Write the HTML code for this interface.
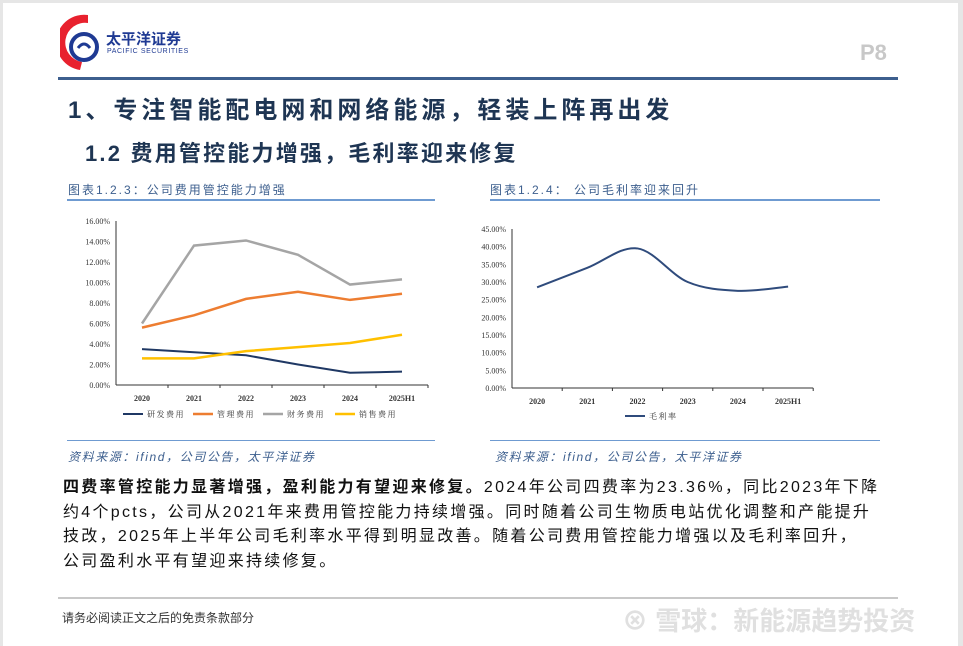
<!DOCTYPE html>
<html><head><meta charset="utf-8"><style>
body{margin:0;width:963px;height:646px;background:#e6e6e6;position:relative;overflow:hidden;font-family:"Liberation Sans","Noto Sans CJK SC",sans-serif}
.page{position:absolute;left:3px;top:3px;width:955px;height:643px;background:#fff}
.abs{position:absolute;white-space:nowrap}
</style></head><body>
<div class="page"></div>
<svg class="abs" style="left:60px;top:14px" width="40" height="58">
<path d="M28 1 A27 27 0 0 0 20 56 L22 48 A19 19 0 0 1 28 9 Z" fill="#e8212e"/>
<circle cx="24" cy="33" r="13" fill="none" stroke="#1f3a93" stroke-width="4"/>
<path d="M18 34 q6 -8 12 0" fill="none" stroke="#1f3a93" stroke-width="3"/>
</svg>
<div class="abs" style="left:106px;top:28px;font-size:15px;font-weight:bold;color:#1f3a93">太平洋证券</div>
<div class="abs" style="left:107px;top:48px;font-size:7px;color:#1f3a93;letter-spacing:0.6px">PACIFIC SECURITIES</div>
<div class="abs" style="left:860px;top:40px;font-size:22px;font-weight:bold;color:#c8c8c8">P8</div>
<div class="abs" style="left:58px;top:77px;width:840px;height:3px;background:#3d5f8e"></div>
<div class="abs" style="left:68px;top:90px;font-size:24px;font-weight:bold;color:#1e3553;letter-spacing:4px">1、专注智能配电网和网络能源，轻装上阵再出发</div>
<div class="abs" style="left:85px;top:136px;font-size:22px;font-weight:bold;color:#1e3553;letter-spacing:2.2px">1.2 费用管控能力增强，毛利率迎来修复</div>
<div class="abs" style="left:68px;top:181px;font-size:12px;color:#3d5f8e;letter-spacing:2px">图表1.2.3：公司费用管控能力增强</div>
<div class="abs" style="left:490px;top:181px;font-size:12px;color:#3d5f8e;letter-spacing:2px">图表1.2.4： 公司毛利率迎来回升</div>
<div class="abs" style="left:67px;top:199px;width:368px;height:2px;background:#6f9bd1"></div>
<div class="abs" style="left:490px;top:199px;width:390px;height:2px;background:#6f9bd1"></div>
<div class="abs" style="left:67px;top:440px;width:368px;height:1px;background:#6f9bd1"></div>
<div class="abs" style="left:490px;top:440px;width:390px;height:1px;background:#6f9bd1"></div>
<div class="abs" style="left:68px;top:448px;font-size:12px;font-style:italic;color:#3d5f8e;letter-spacing:1.6px">资料来源：ifind，公司公告，太平洋证券</div>
<div class="abs" style="left:495px;top:448px;font-size:12px;font-style:italic;color:#3d5f8e;letter-spacing:1.6px">资料来源：ifind，公司公告，太平洋证券</div>
<div class="abs" style="left:63px;top:476px;font-size:16px;line-height:24.5px;color:#111;letter-spacing:2.3px"><b>四费率管控能力显著增强，盈利能力有望迎来修复。</b>2024年公司四费率为23.36%，同比2023年下降<br>约4个pcts，公司从2021年来费用管控能力持续增强。同时随着公司生物质电站优化调整和产能提升<br>技改，2025年上半年公司毛利率水平得到明显改善。随着公司费用管控能力增强以及毛利率回升，<br>公司盈利水平有望迎来持续修复。</div>
<div class="abs" style="left:58px;top:597px;width:840px;height:2px;background:#c8c8c8"></div>
<div class="abs" style="left:62px;top:609px;font-size:12px;color:#333">请务必阅读正文之后的免责条款部分</div>
<div class="abs" style="left:622px;top:601px;font-size:26px;color:#e0e0e0;font-weight:bold">⊗ 雪球：新能源趋势投资</div>
<svg class="abs" style="left:0;top:0" width="963" height="646" id="charts"></svg>
<script>
const cats=["2020","2021","2022","2023","2024","2025H1"];
const yTicks1=["0.00%","2.00%","4.00%","6.00%","8.00%","10.00%","12.00%","14.00%","16.00%"];
const rd=[3.5,3.2,2.9,2.0,1.2,1.3];
const mgmt=[5.6,6.8,8.4,9.1,8.3,8.9];
const fin=[6.0,13.6,14.1,12.7,9.8,10.3];
const sales=[2.6,2.6,3.3,3.7,4.1,4.9];
const yTicks2=["0.00%","5.00%","10.00%","15.00%","20.00%","25.00%","30.00%","35.00%","40.00%","45.00%"];
const gross=[28.5,34,39.5,30,27.5,28.7];
const NS="http://www.w3.org/2000/svg",svg=document.getElementById('charts');
function mk(t,a,txt){const e=document.createElementNS(NS,t);for(const k in a)e.setAttribute(k,a[k]);if(txt!=null)e.textContent=txt;svg.appendChild(e);return e;}
function chart(o){
 const x=i=>o.x0+(i+0.5)*o.bw, y=v=>o.yb-(v/o.ymax)*(o.yb-o.yt);
 let e=mk('line',{x1:o.x0,y1:o.yt,x2:o.x0,y2:o.yb,stroke:'#333','stroke-width':1});
 
 e=mk('line',{x1:o.x0,y1:o.yb,x2:o.x0+cats.length*o.bw,y2:o.yb,stroke:'#333','stroke-width':1});
 
 o.ticks.forEach((t,i)=>{const v=i*o.step;
  e=mk('text',{x:o.x0-6,y:y(v)+3,'text-anchor':'end','font-size':8,'font-family':'Liberation Serif',fill:'#333'},t);
  });
 cats.forEach((c,i)=>{
  e=mk('line',{x1:o.x0+(i+1)*o.bw,y1:o.yb,x2:o.x0+(i+1)*o.bw,y2:o.yb+3,stroke:'#333'});
  
  e=mk('text',{x:x(i),y:o.yb+16,'text-anchor':'middle','font-size':8,'font-weight':'bold','font-family':'Liberation Serif',fill:'#333'},c);
  });
 o.series.forEach(s=>{
  let d;
  if(s.smooth){const p=s.data.map((v,i)=>[x(i),y(v)]);d='M'+p[0];
   for(let i=0;i<p.length-1;i++){const p0=p[i-1]||p[i],p1=p[i],p2=p[i+1],p3=p[i+2]||p2;
    d+=' C'+(p1[0]+(p2[0]-p0[0])/6)+','+(p1[1]+(p2[1]-p0[1])/6)+' '+(p2[0]-(p3[0]-p1[0])/6)+','+(p2[1]-(p3[1]-p1[1])/6)+' '+p2;}}
  else d='M'+s.data.map((v,i)=>x(i)+','+y(v)).join(' L');
  e=mk('path',{d:d,fill:'none',stroke:s.color,'stroke-width':s.w});
  
  e=mk('line',{x1:s.lx,y1:o.ly,x2:s.lx+20,y2:o.ly,stroke:s.color,'stroke-width':s.w});
  
  e=mk('text',{x:s.lx+24,y:o.ly+3,'font-size':8,fill:'#333','font-family':'Noto Serif CJK SC, serif','letter-spacing':1.5},s.label);
  });
}
chart({id:'chart1',x0:116,bw:52,yt:221,yb:385,ymax:16,step:2,ticks:yTicks1,ly:414,series:[
 {name:'rd-expense-line',label:'研发费用',data:rd,color:'#1f3864',w:2,lx:123},
 {name:'mgmt-expense-line',label:'管理费用',data:mgmt,color:'#ed7d31',w:2.5,lx:193},
 {name:'fin-expense-line',label:'财务费用',data:fin,color:'#a5a5a5',w:2.5,lx:263},
 {name:'sales-expense-line',label:'销售费用',data:sales,color:'#ffc000',w:2.5,lx:335}]});
chart({id:'chart2',x0:512,bw:50.2,yt:229,yb:388,ymax:45,step:5,ticks:yTicks2,ly:416,series:[
 {name:'gross-margin-line',label:'毛利率',data:gross,color:'#2f4b7c',w:2,lx:625,smooth:true}]});
</script>
</body></html>
